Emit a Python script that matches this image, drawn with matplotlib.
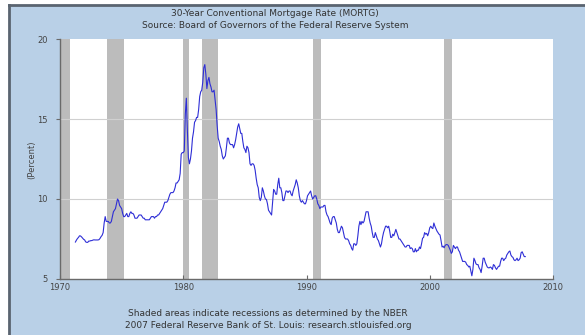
import numpy as np
import matplotlib
matplotlib.use("Agg")
import matplotlib.pyplot as plt
from matplotlib.patches import Rectangle
from matplotlib.lines import Line2D

# 30-year conventional mortgage rate, monthly, starting April 1971 (percent)
rates_1971 = [7.31, 7.43, 7.53, 7.60, 7.70, 7.69, 7.63, 7.55, 7.48]
rates_1972 = [7.44, 7.32, 7.29, 7.29, 7.37, 7.37, 7.40, 7.40, 7.43, 7.45, 7.44, 7.44]
rates_1973 = [7.44, 7.44, 7.46, 7.54, 7.65, 7.73, 7.90, 8.50, 8.90, 8.60, 8.60, 8.60]
rates_1974 = [8.50, 8.50, 8.60, 8.90, 9.20, 9.30, 9.40, 9.70, 10.00, 9.90, 9.60, 9.50]
rates_1975 = [9.40, 9.10, 8.90, 8.90, 9.00, 9.10, 8.90, 8.90, 9.10, 9.20, 9.10, 9.10]
rates_1976 = [9.00, 8.80, 8.80, 8.80, 8.90, 9.00, 9.00, 9.00, 8.90, 8.80, 8.80, 8.70]
rates_1977 = [8.70, 8.70, 8.70, 8.70, 8.80, 8.90, 8.90, 8.90, 8.80, 8.90, 8.90, 9.00]
rates_1978 = [9.00, 9.10, 9.20, 9.30, 9.40, 9.60, 9.80, 9.80, 9.80, 9.90, 10.10, 10.30]
rates_1979 = [10.40, 10.40, 10.40, 10.50, 10.70, 11.00, 11.00, 11.10, 11.20, 11.60, 12.80, 12.90]
rates_1980 = [12.90, 13.00, 15.30, 16.30, 14.30, 12.60, 12.20, 12.50, 13.00, 13.80, 14.20, 14.80]
rates_1981 = [14.90, 15.10, 15.10, 15.60, 16.40, 16.70, 16.80, 17.30, 18.20, 18.40, 17.80, 16.90]
rates_1982 = [17.40, 17.60, 17.20, 17.00, 16.70, 16.70, 16.80, 16.20, 15.60, 14.60, 13.80, 13.60]
rates_1983 = [13.30, 13.10, 12.70, 12.50, 12.60, 12.70, 13.20, 13.80, 13.80, 13.50, 13.40, 13.40]
rates_1984 = [13.40, 13.20, 13.40, 13.70, 14.10, 14.50, 14.70, 14.40, 14.10, 14.10, 13.60, 13.20]
rates_1985 = [13.10, 12.90, 13.30, 13.20, 12.90, 12.20, 12.10, 12.20, 12.20, 12.10, 11.80, 11.30]
rates_1986 = [10.90, 10.70, 10.10, 9.90, 10.10, 10.70, 10.50, 10.20, 10.00, 9.97, 9.70, 9.30]
rates_1987 = [9.20, 9.10, 9.00, 9.80, 10.60, 10.50, 10.30, 10.30, 10.90, 11.30, 10.70, 10.70]
rates_1988 = [10.40, 9.90, 9.90, 10.20, 10.50, 10.50, 10.40, 10.50, 10.50, 10.30, 10.20, 10.50]
rates_1989 = [10.70, 10.90, 11.20, 11.00, 10.70, 10.20, 9.90, 9.80, 9.90, 9.80, 9.70, 9.70]
rates_1990 = [9.90, 10.20, 10.30, 10.40, 10.50, 10.20, 10.00, 10.10, 10.20, 10.20, 10.00, 9.70]
rates_1991 = [9.60, 9.40, 9.50, 9.50, 9.50, 9.60, 9.60, 9.20, 9.00, 8.90, 8.70, 8.50]
rates_1992 = [8.40, 8.80, 8.90, 8.90, 8.70, 8.50, 8.10, 7.90, 7.90, 8.10, 8.30, 8.20]
rates_1993 = [7.90, 7.60, 7.50, 7.50, 7.50, 7.40, 7.20, 7.10, 6.90, 6.80, 7.20, 7.20]
rates_1994 = [7.10, 7.20, 7.70, 8.30, 8.60, 8.40, 8.60, 8.50, 8.60, 8.90, 9.20, 9.20]
rates_1995 = [9.20, 8.80, 8.50, 8.30, 7.90, 7.60, 7.60, 7.90, 7.70, 7.50, 7.40, 7.20]
rates_1996 = [7.00, 7.20, 7.60, 7.90, 8.10, 8.30, 8.30, 8.20, 8.30, 8.00, 7.60, 7.60]
rates_1997 = [7.80, 7.70, 7.90, 8.10, 7.90, 7.70, 7.50, 7.50, 7.40, 7.30, 7.20, 7.10]
rates_1998 = [7.00, 7.00, 7.10, 7.10, 7.10, 6.90, 6.95, 6.90, 6.70, 6.70, 6.90, 6.70]
rates_1999 = [6.80, 6.80, 7.00, 6.90, 7.20, 7.55, 7.60, 7.90, 7.80, 7.85, 7.70, 7.90]
rates_2000 = [8.20, 8.30, 8.20, 8.15, 8.50, 8.30, 8.15, 8.00, 7.90, 7.80, 7.75, 7.40]
rates_2001 = [7.00, 7.05, 6.95, 7.10, 7.15, 7.15, 7.10, 6.95, 6.80, 6.60, 6.70, 7.10]
rates_2002 = [7.00, 6.90, 7.00, 7.00, 6.80, 6.70, 6.50, 6.30, 6.10, 6.10, 6.10, 6.05]
rates_2003 = [5.90, 5.85, 5.75, 5.80, 5.50, 5.20, 5.60, 6.30, 6.15, 5.95, 5.90, 5.90]
rates_2004 = [5.70, 5.60, 5.40, 5.80, 6.30, 6.30, 6.05, 5.90, 5.75, 5.70, 5.70, 5.75]
rates_2005 = [5.70, 5.60, 5.90, 5.85, 5.70, 5.60, 5.70, 5.80, 5.80, 6.10, 6.30, 6.30]
rates_2006 = [6.15, 6.25, 6.30, 6.50, 6.60, 6.70, 6.75, 6.50, 6.40, 6.35, 6.20, 6.15]
rates_2007 = [6.20, 6.30, 6.15, 6.20, 6.30, 6.65, 6.70, 6.55, 6.40, 6.40]

start_year, start_month = 1971, 4

# NBER recessions as (start, end) in fractional years
recession_starts = [1969.92, 1973.83, 1980.0, 1981.5, 1990.5, 2001.17]
recession_ends = [1970.83, 1975.17, 1980.5, 1982.83, 1991.17, 2001.83]

x_ticks = [1970, 1980, 1990, 2000, 2010]
y_ticks = [5, 10, 15, 20]

title_lines = ["30-Year Conventional Mortgage Rate (MORTG)",
               "Source: Board of Governors of the Federal Reserve System"]
footer_lines = ["Shaded areas indicate recessions as determined by the NBER",
                "2007 Federal Reserve Bank of St. Louis: research.stlouisfed.org"]

rates = np.array(rates_1971 + rates_1972 + rates_1973 + rates_1974 + rates_1975 +
                 rates_1976 + rates_1977 + rates_1978 + rates_1979 + rates_1980 +
                 rates_1981 + rates_1982 + rates_1983 + rates_1984 + rates_1985 +
                 rates_1986 + rates_1987 + rates_1988 + rates_1989 + rates_1990 +
                 rates_1991 + rates_1992 + rates_1993 + rates_1994 + rates_1995 +
                 rates_1996 + rates_1997 + rates_1998 + rates_1999 + rates_2000 +
                 rates_2001 + rates_2002 + rates_2003 + rates_2004 + rates_2005 +
                 rates_2006 + rates_2007)
months = np.arange(len(rates))
dates = start_year + (start_month - 1 + months) / 12.0

W, H = 585, 335
fig = plt.figure(figsize=(W / 100, H / 100), dpi=100, facecolor="white")

# light-blue panel with a dark edge on the left and top
bg = "#b9d0e7"
fig.patches.append(Rectangle((9 / W, 0), 1 - 9 / W, 1 - 5 / H, transform=fig.transFigure,
                             facecolor=bg, edgecolor="none", zorder=-10))
fig.lines.append(Line2D([9 / W, 9 / W], [0, 1 - 5 / H], transform=fig.transFigure,
                        color="#5a6470", lw=2.0, zorder=-9))
fig.lines.append(Line2D([9 / W, 1], [1 - 5 / H, 1 - 5 / H], transform=fig.transFigure,
                        color="#5a6470", lw=2.0, zorder=-9))

ax = fig.add_axes([60 / W, 1 - 279 / H, (553 - 60) / W, (279 - 39) / H])
ax.set_facecolor("white")
ax.set_xlim(1970, 2010)
ax.set_ylim(5, 20)

for s, e in zip(recession_starts, recession_ends):
    ax.axvspan(max(s, 1970), e, color="#bcbcbc", lw=0, zorder=1)

for yv in [10, 15]:
    ax.axhline(yv, color="#d0d0d0", lw=0.8, zorder=2)

ax.plot(dates, rates, color="#2e2ed6", lw=0.8, zorder=3)

for side in ["top", "right"]:
    ax.spines[side].set_visible(False)
for side in ["left", "bottom"]:
    ax.spines[side].set_color("#6a6a6a")
    ax.spines[side].set_linewidth(1.0)

ax.set_xticks(x_ticks)
ax.set_xticklabels([str(t) for t in x_ticks])
ax.set_yticks(y_ticks)
ax.set_yticklabels([str(t) for t in y_ticks])
ax.tick_params(axis="x", direction="in", length=3, width=0.8, color="#6a6a6a",
               labelsize=6, labelcolor="#444444", pad=3)
ax.tick_params(axis="y", direction="out", length=3, width=0.8, color="#6a6a6a",
               labelsize=6, labelcolor="#444444", pad=6)

fig.text(32 / W, 1 - 160 / H, "(Percent)", rotation=90, ha="center", va="center",
         fontsize=6, color="#444444")

fig.text(275 / W, 1 - 13 / H, title_lines[0], ha="center", va="center",
         fontsize=6.5, color="#333333")
fig.text(275 / W, 1 - 25 / H, title_lines[1], ha="center", va="center",
         fontsize=6.5, color="#333333")
fig.text(268 / W, 1 - 314 / H, footer_lines[0], ha="center", va="center",
         fontsize=6.5, color="#333333")
fig.text(268 / W, 1 - 326 / H, footer_lines[1], ha="center", va="center",
         fontsize=6.5, color="#333333")

fig.savefig("out.png", dpi=100, facecolor="white")
